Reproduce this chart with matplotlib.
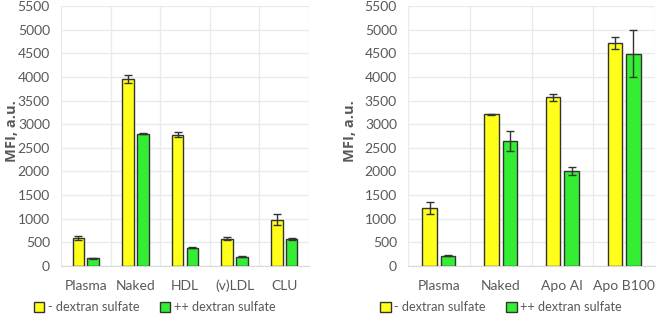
import numpy as np
import matplotlib
matplotlib.use("Agg")
import matplotlib.pyplot as plt
from matplotlib.patches import Patch

plt.rcParams["font.family"] = ["Lato", "DejaVu Sans"]

# left panel
cats_l = ["Plasma", "Naked", "HDL", "(v)LDL", "CLU"]
minus_l = [590, 3960, 2780, 580, 980]
minus_l_err = [45, 90, 60, 40, 110]
plus_l = [160, 2800, 390, 200, 570]
plus_l_err = [10, 15, 10, 10, 15]

# right panel
cats_r = ["Plasma", "Naked", "Apo AI", "Apo B100"]
minus_r = [1230, 3210, 3570, 4710]
minus_r_err = [125, 15, 70, 130]
plus_r = [220, 2640, 2010, 4490]
plus_r_err = [10, 215, 80, 500]

YELLOW = "#ffff1a"
GREEN = "#33ee33"
TXT = "#595959"
GRID = "#e6ecee"

fig = plt.figure(figsize=(6.59, 3.21), dpi=100)
ax_l = fig.add_axes([61 / 659, 55 / 321, 248 / 659, 260 / 321])
ax_r = fig.add_axes([408 / 659, 55 / 321, 247 / 659, 260 / 321])


def draw(ax, cats, minus, minus_err, plus, plus_err, label_x):
    n = len(cats)
    x = np.arange(n)
    w = 0.235
    off = 0.15
    ekw = dict(ecolor="#333333", elinewidth=1.0, capsize=3, capthick=1.0)
    ax.bar(x - off, minus, w, color=YELLOW, edgecolor="#333333", linewidth=1.0,
           yerr=minus_err, error_kw=ekw, zorder=3)
    ax.bar(x + off, plus, w, color=GREEN, edgecolor="#333333", linewidth=1.0,
           yerr=plus_err, error_kw=ekw, zorder=3)
    ax.set_xlim(-0.5, n - 0.5)
    ax.set_ylim(0, 5500)
    ax.set_yticks(np.arange(0, 5501, 500))
    ax.set_xticks(x)
    ax.set_xticklabels(cats)
    ax.set_xticks(np.arange(-0.5, n, 0.5), minor=True)
    ax.grid(True, which="minor", axis="x", color=GRID, linewidth=1.0, zorder=0)
    ax.grid(True, which="major", axis="y", color=GRID, linewidth=1.0, zorder=0)
    ax.tick_params(which="both", length=0)
    ax.tick_params(axis="y", labelsize=10, colors=TXT, pad=8)
    ax.tick_params(axis="x", labelsize=10, colors=TXT, pad=10)
    for s in ["top", "right", "left"]:
        ax.spines[s].set_visible(False)
    ax.spines["bottom"].set_color("#d9d9d9")
    ax.set_ylabel("MFI, a.u.", fontsize=10.5, fontweight="bold", color=TXT,
                  family=["Open Sans", "DejaVu Sans"])
    ax.yaxis.set_label_coords(label_x, 0.52)
    handles = [Patch(facecolor=YELLOW, edgecolor="#333333", label="- dextran sulfate"),
               Patch(facecolor=GREEN, edgecolor="#333333", label="++ dextran sulfate")]
    ax.legend(handles=handles, loc="center", bbox_to_anchor=(0.377, -0.158),
              ncol=2, frameon=False, fontsize=9.2, handlelength=0.8, handleheight=0.8,
              handletextpad=0.3, columnspacing=1.6, labelcolor=TXT, borderaxespad=0,
              borderpad=0)


draw(ax_l, cats_l, minus_l, minus_l_err, plus_l, plus_l_err, -0.17)
draw(ax_r, cats_r, minus_r, minus_r_err, plus_r, plus_r_err, -0.205)

fig.savefig("out.png", dpi=100)
